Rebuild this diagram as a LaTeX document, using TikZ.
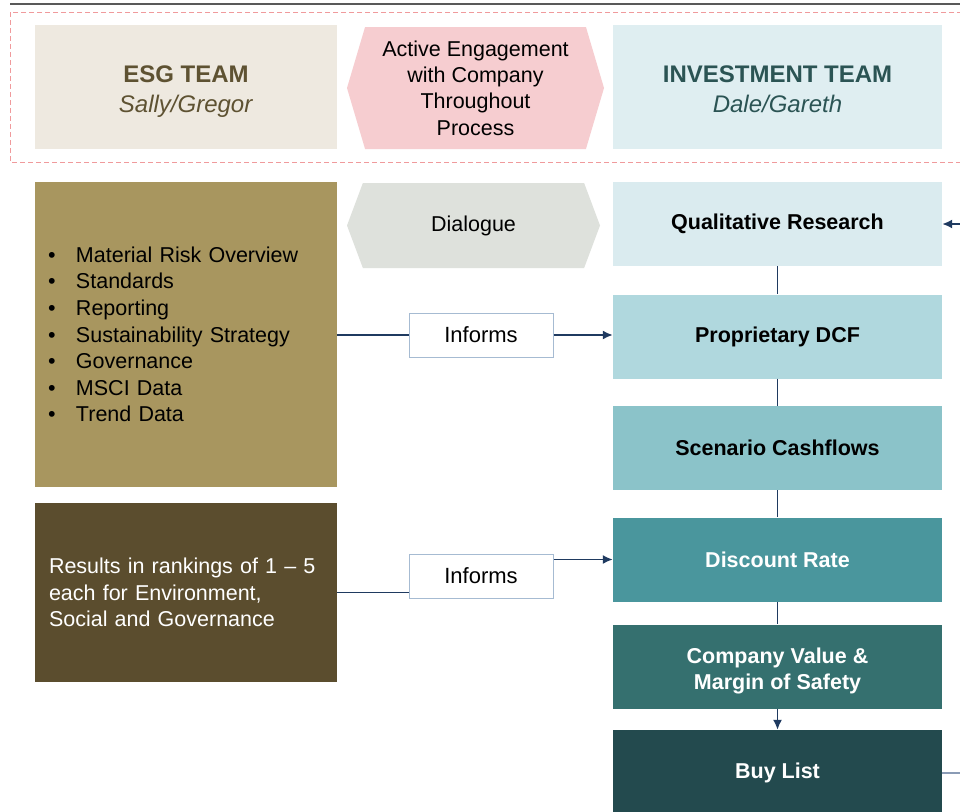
\documentclass[tikz,border=0pt]{standalone}
\usepackage{fontspec}
\setmainfont{Liberation Sans}
\usetikzlibrary{shapes.symbols}
\usetikzlibrary{arrows.meta}
\definecolor{topline}{HTML}{595959}
\definecolor{dashpink}{HTML}{F09A9C}
\definecolor{esglight}{HTML}{EEE9E0}
\definecolor{esgtext}{HTML}{5E5232}
\definecolor{engagepink}{HTML}{F6CDD0}
\definecolor{invlight}{HTML}{DFEEF1}
\definecolor{invtext}{HTML}{2B5454}
\definecolor{dialoguegrey}{HTML}{DEE1DC}
\definecolor{esgmid}{HTML}{A8965F}
\definecolor{esgdark}{HTML}{5B4D2E}
\definecolor{qualfill}{HTML}{DAEBEF}
\definecolor{dcffill}{HTML}{B0D8DE}
\definecolor{scenfill}{HTML}{8BC3C9}
\definecolor{discfill}{HTML}{4A969D}
\definecolor{valfill}{HTML}{35706F}
\definecolor{buyfill}{HTML}{234A4E}
\definecolor{linknavy}{HTML}{1F3A60}
\definecolor{buyline}{HTML}{8A9BB5}
\definecolor{informline}{HTML}{A6BBD2}
\tikzstyle{panel}=[rectangle, draw=none, inner sep=0pt, align=center]
\tikzstyle{team_title}=[panel, minimum height=124pt, font=\fontsize{24}{30}\selectfont]
\tikzstyle{list_panel}=[panel, align=left, inner xsep=13pt, text width=276pt, minimum height=305pt, font=\fontsize{21.5}{26.6}\selectfont]
\tikzstyle{step_box}=[panel, minimum width=329pt, minimum height=84pt, font=\fontsize{21.5}{26}\selectfont\bfseries]
\tikzstyle{engage_hex}=[signal, signal to=west and east, draw=none, inner sep=0pt, align=center, minimum width=257pt, font=\fontsize{21.5}{26.3}\selectfont]
\tikzstyle{informs_box}=[rectangle, draw=informline, line width=1pt, fill=white, minimum width=144pt, minimum height=44pt, font=\fontsize{22}{26}\selectfont]
\tikzstyle{link}=[draw=linknavy, line width=1.7pt]
\tikzstyle{link_arrow}=[link, -{Latex[length=10pt,width=9pt]}]
\newcommand{\bul}{\makebox[28pt][l]{\textbullet}}

\begin{document}
\begin{tikzpicture}[x=1pt, y=-1pt]
          \clip (0,0) rectangle (960,811);
          \fill[white] (0,0) rectangle (960,811);
          \draw[topline, line width=2pt] (10,4) -- (962,4);
          \draw[dashpink, line width=1pt, dash pattern=on 5pt off 3pt] (10,12) rectangle (980,162);
          \node[team_title, fill=esglight, text=esgtext, minimum width=302pt] (esg) at (186,87){\rule{0pt}{28pt}\textbf{ESG TEAM}\\\textit{Sally/Gregor}\rule[-8pt]{0pt}{8pt}};
          \node[engage_hex, fill=engagepink, minimum height=122pt, signal pointer angle=147] (engage) at (475.5,88){Active Engagement\\with Company\\Throughout\\Process};
          \node[team_title, fill=invlight, text=invtext, minimum width=329pt] (inv) at (777.5,87){\rule{0pt}{28pt}\textbf{INVESTMENT TEAM}\\\textit{Dale/Gareth}\rule[-8pt]{0pt}{8pt}};
          \node[engage_hex, fill=dialoguegrey, minimum height=85pt, minimum width=253pt, signal pointer angle=139] (dialogue) at (473.5,225.5){Dialogue};
          \node[list_panel, fill=esgmid, text=black] (factors) at (186,334.5){\bul Material Risk Overview\\\bul Standards\\\bul Reporting\\\bul Sustainability Strategy\\\bul Governance\\\bul MSCI Data\\\bul Trend Data};
          \node[list_panel, fill=esgdark, text=white, minimum height=179pt, inner xsep=14pt, text width=274pt] (rankings) at (186,592.5){Results in rankings of 1 – 5\\each for Environment,\\Social and Governance};
          \node[step_box, fill=qualfill, text=black] (qual) at (777.5,224){Qualitative Research};
          \node[step_box, fill=dcffill, text=black] (dcf) at (777.5,336.5){Proprietary DCF};
          \node[step_box, fill=scenfill, text=black] (scen) at (777.5,448){Scenario Cashflows};
          \node[step_box, fill=discfill, text=white] (disc) at (777.5,559.5){Discount Rate};
          \node[step_box, fill=valfill, text=white] (val) at (777.5,666.5){\rule{0pt}{27pt}Company Value \&\\Margin of Safety\rule[-7pt]{0pt}{7pt}};
          \node[step_box, fill=buyfill, text=white, minimum height=86pt] (buy) at (777.5,773){Buy List};
          \node[informs_box] (inf1) at (481,335){Informs};
          \node[informs_box] (inf2) at (481,576){Informs};
          \coordinate (qin) at (962,224);
          \coordinate (bout) at (962,773);
          \draw[link](qual) -- (dcf);
          \draw[link](dcf) -- (scen);
          \draw[link](scen) -- (disc);
          \draw[link](disc) -- (val);
          \draw[link_arrow](val) -- (buy);
          \draw[link_arrow](qin) -- (qual);
          \draw[buyline, line width=1.7pt](buy) -- (bout);
          \draw[link](factors.east |- inf1.west) -- (inf1.west);
          \draw[link_arrow](inf1.east) -- (dcf.west |- inf1.east);
          \draw[link](rankings.east) -- (inf2.west |- rankings.east);
          \draw[link_arrow](inf2.east |- disc.west) -- (disc.west);
        \end{tikzpicture}
\end{document}
